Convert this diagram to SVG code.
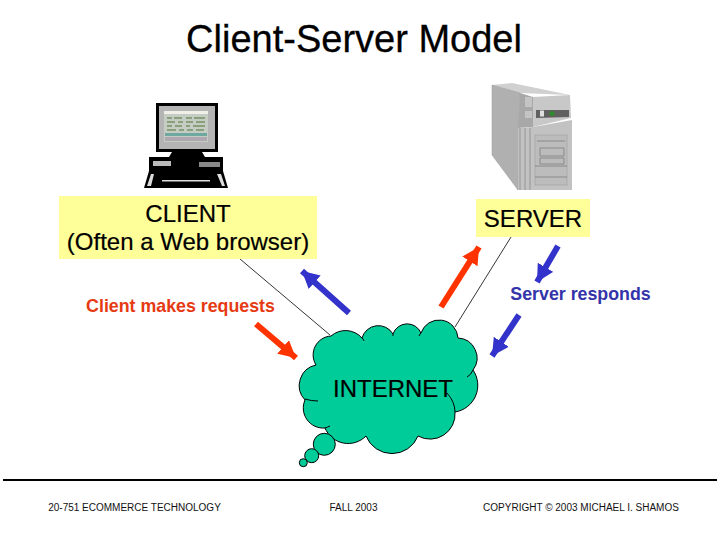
<svg xmlns="http://www.w3.org/2000/svg" width="720" height="540" viewBox="0 0 720 540">
<style>
text{font-family:"Liberation Sans",Arial,sans-serif;fill:#000}
.lbl{font-size:24px;stroke:#000;stroke-width:.2}
.foot{font-size:10px;fill:#111}
.bold{font-size:17.8px;font-weight:bold}
.box{fill:#ffff99}
.cloud{fill:#00cc99;stroke:#000;stroke-width:1}
.link{stroke:#000;stroke-width:.8;fill:none}
.red{stroke:#ff3300;stroke-width:6;fill:none;marker-end:url(#ar)}
.blue{stroke:#3333cc;stroke-width:6;fill:none;marker-end:url(#ab)}
</style>
<defs>
<marker id="ar" markerUnits="userSpaceOnUse" markerWidth="20" markerHeight="20" refX="17" refY="9" orient="auto"><path d="M0 0L17 9L0 18Z" fill="#ff3300"/></marker>
<marker id="ab" markerUnits="userSpaceOnUse" markerWidth="20" markerHeight="20" refX="17" refY="9" orient="auto"><path d="M0 0L17 9L0 18Z" fill="#3333cc"/></marker>
</defs>
<rect width="720" height="540" fill="#fff"/>
<text x="354" y="52" text-anchor="middle" style="font-size:38px;stroke:#000;stroke-width:.3">Client-Server Model</text>
<g id="connectors">
<line class="link" x1="240" y1="259" x2="330" y2="335"/>
<line class="link" x1="511" y1="237" x2="455" y2="327"/>
<line class="blue" x1="349" y1="313" x2="302" y2="271"/>
<line class="red" x1="256" y1="324" x2="296" y2="358"/>
<line class="red" x1="441" y1="307" x2="479" y2="247"/>
<line class="blue" x1="558" y1="246" x2="537" y2="282"/>
<line class="blue" x1="519" y1="315" x2="492" y2="356"/>
</g>
<g id="client-pc">
<rect x="156" y="103" width="62" height="49" fill="#000"/>
<rect x="159" y="106" width="56" height="43" fill="#b4b4b4"/>
<rect x="164" y="111" width="44" height="31" fill="#c4ccc4"/>
<rect x="164" y="111" width="44" height="3" fill="#f0f0e8"/>
<path d="M167 118h5M174 118h8M186 118h6M194 118h11M167 122h8M178 122h5M186 122h7M196 122h9M167 126h5M175 126h7M186 126h4M193 126h12M167 130h9M179 130h5M187 130h6M196 130h8" stroke="#8aa07a" stroke-width="2"/>
<rect x="165" y="133" width="42" height="3" fill="#6fa8a0"/>
<rect x="165" y="137" width="42" height="4" fill="#b0a8b0"/>
<path d="M172 152h30l3 5h-36Z" fill="#000"/>
<rect x="149" y="157" width="74" height="14" fill="#000"/>
<rect x="153" y="161" width="18" height="5" fill="#bbb"/>
<rect x="199" y="162" width="21" height="5" fill="#888"/>
<path d="M149 171h74l5 17H144Z" fill="#000"/>
<path d="M151 174l-4 12h4l3-12ZM162 180h48v1.500h-48ZM217 174l5 12h3l-4-12Z" fill="#ddd"/>
</g>
<g id="client">
<rect class="box" x="59" y="196" width="258" height="63"/>
<text class="lbl" x="188" y="222" text-anchor="middle">CLIENT</text>
<text class="lbl" x="188" y="250" text-anchor="middle">(Often a Web browser)</text>
</g>
<g id="server-pc">
<path d="M492 85L512 83L570 95L520 93Z" fill="#d0d0d0"/>
<path d="M492 85L520 93L518 190L492 155Z" fill="#b0b0b0" stroke="#999" stroke-width=".5"/>
<path d="M520 93L533 97V127L518 128Z" fill="#a8a8a8"/>
<rect x="525" y="97" width="7" height="10" fill="#c4c4c4"/>
<rect x="525" y="111" width="7" height="7" fill="#c4c4c4"/>
<path d="M533 97L570 95L571 118L533 127Z" fill="#c8c8c8"/>
<path d="M536 110L569 110V117L536 118Z" fill="#606060"/>
<circle cx="552" cy="113.500" r="2.500" fill="#2e8b2e"/>
<rect x="540" y="110.500" width="4" height="6" fill="#e0e0e0"/>
<path d="M518 128L533 127L572 120V190H518Z" fill="#c2c2c2"/>
<rect x="535" y="135" width="32" height="50" fill="#bcbcbc" stroke="#999" stroke-width=".5"/>
<path d="M537 141h28M540 148h24v8h-24ZM540 158h24v6h-24ZM535 166h32M535 177h32" stroke="#777" stroke-width=".7" fill="none"/>
<path d="M520 128V190M525 128V190M530 128V190" stroke="#8c8c8c" stroke-width=".8"/>
</g>
<g id="server">
<rect class="box" x="476" y="199" width="114" height="38"/>
<text class="lbl" x="533" y="227" text-anchor="middle">SERVER</text>
</g>
<text class="bold" x="180.500" y="312" text-anchor="middle" style="fill:#e63a12">Client makes requests</text>
<text class="bold" x="580.500" y="300" text-anchor="middle" style="fill:#3333aa">Server responds</text>
<g id="internet">
<path class="cloud" d="M331 336A22 22 0 0 1 362 338A17 17 0 0 1 393 334A15 15 0 0 1 421 333A19 19 0 0 1 458 338A20 20 0 0 1 473 370A27 27 0 0 1 455 412A25 25 0 0 1 418 436A28 28 0 0 1 366 436A25 25 0 0 1 325 428A20 20 0 0 1 305 400A21 21 0 0 1 316 365A19 19 0 0 1 331 336Z"/>
<path d="M305 399Q311 401 318 401M473 370Q471 375 467 377M447 393Q455 402 455 412M325 428Q328 427 330 426M362 338Q364 340 364 341M393 334V336M421 333Q420 334 419 336" fill="none" stroke="#000"/>
<circle class="cloud" cx="324.300" cy="444.300" r="11"/>
<circle class="cloud" cx="311.700" cy="455.700" r="7"/>
<circle class="cloud" cx="303.300" cy="462.700" r="4"/>
<text class="lbl" x="393" y="397" text-anchor="middle">INTERNET</text>
</g>
<line x1="3" y1="480" x2="717" y2="480" stroke="#000" stroke-width="2"/>
<text class="foot" x="134.500" y="511" text-anchor="middle">20-751 ECOMMERCE TECHNOLOGY</text>
<text class="foot" x="353.500" y="511" text-anchor="middle">FALL 2003</text>
<text class="foot" x="581" y="511" text-anchor="middle">COPYRIGHT © 2003 MICHAEL I. SHAMOS</text>
</svg>
